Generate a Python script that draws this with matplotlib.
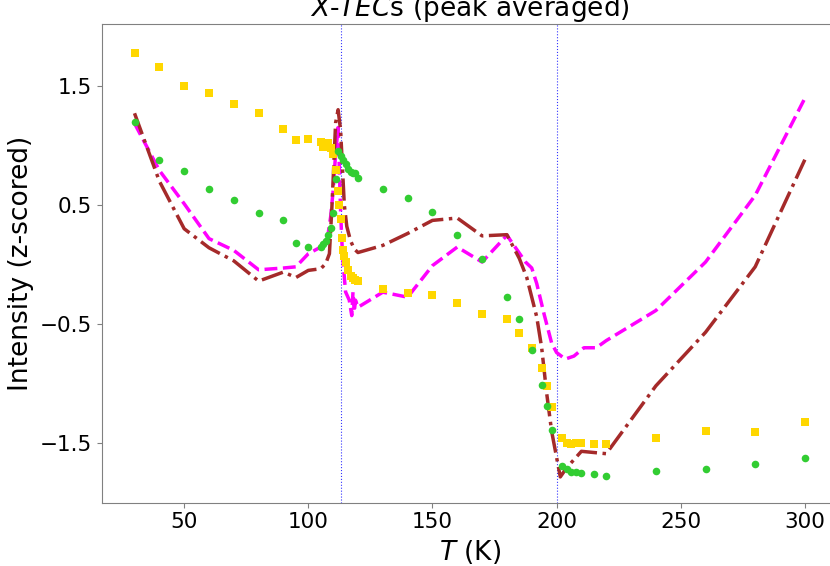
import matplotlib
matplotlib.use("Agg")
import matplotlib.pyplot as plt

# ---- data ----
T_yellow = [30, 40, 50, 60, 70, 80, 90, 95, 100, 105, 106, 107, 108, 109, 110,
            111, 112, 112.5, 113, 113.5, 114, 114.5, 115, 116, 117, 118, 119, 120,
            130, 140, 150, 160, 170, 180, 185, 190, 194, 196, 198,
            202, 204, 206, 208, 210, 215, 220, 240, 260, 280, 300]
yellow = [1.78, 1.66, 1.50, 1.44, 1.35, 1.275, 1.14, 1.045, 1.05, 1.03, 0.99, 1.00, 1.017, 0.975, 0.93,
          0.79, 0.62, 0.50, 0.38, 0.22, 0.12, 0.07, 0.02, -0.05, -0.10, -0.11, -0.13, -0.14,
          -0.21, -0.24, -0.26, -0.32, -0.42, -0.455, -0.58, -0.70, -0.87, -1.02, -1.20,
          -1.46, -1.50, -1.51, -1.50, -1.50, -1.505, -1.505, -1.46, -1.40, -1.41, -1.32]

T_green = [30, 40, 50, 60, 70, 80, 90, 95, 100, 105, 106, 107, 108, 109, 110,
           111, 112, 113, 114, 115, 116, 117, 118, 119, 120,
           130, 140, 150, 160, 170, 180, 185, 190, 194, 196, 198,
           202, 204, 206, 208, 210, 215, 220, 240, 260, 280, 300]
green = [1.20, 0.874, 0.784, 0.63, 0.54, 0.428, 0.37, 0.183, 0.146, 0.15, 0.175, 0.197, 0.25, 0.31, 0.43,
         0.72, 0.95, 0.91, 0.88, 0.84, 0.80, 0.78, 0.765, 0.77, 0.73,
         0.635, 0.56, 0.44, 0.25, 0.043, -0.27, -0.455, -0.72, -1.01, -1.19, -1.39,
         -1.69, -1.72, -1.74, -1.745, -1.755, -1.76, -1.777, -1.735, -1.716, -1.68, -1.63]

T_brown = [30, 40, 50, 60, 70, 80, 90, 95, 100, 105, 107, 108.5, 109.5, 110, 111, 112,
           113, 114.5, 115.5, 117, 118.5, 120, 130, 140, 150, 160, 170, 180,
           185, 188, 190, 192, 194, 196, 198, 200, 201.5, 204, 210, 220,
           240, 260, 280, 300]
brown = [1.27, 0.70, 0.30, 0.14, 0.03, -0.14, -0.064, -0.11, -0.05, -0.036, 0.006, 0.09, 0.48, 0.71, 1.19, 1.30,
         1.13, 0.50, 0.32, 0.20, 0.13, 0.10, 0.16, 0.26, 0.37, 0.39, 0.24, 0.25,
         0.05, -0.11, -0.275, -0.44, -0.70, -1.08, -1.40, -1.62, -1.785, -1.71, -1.57, -1.59,
         -1.02, -0.57, -0.02, 0.88]

T_magenta = [30, 40, 50, 60, 70, 80, 90, 95, 100, 105, 107.5, 109, 110, 111, 112,
             113, 113.5, 114, 115, 116.5, 117.5, 118, 118.5, 119, 120, 130, 140, 150, 160, 170, 180,
             187.5, 190, 192, 195, 198, 200, 203.5, 207, 211, 216, 220,
             240, 260, 280, 300]
magenta = [1.185, 0.79, 0.51, 0.217, 0.118, -0.045, -0.03, -0.02, 0.09, 0.146, 0.19, 0.40, 0.62, 0.93, 1.15,
           0.45, 0.20, 0.02, -0.23, -0.30, -0.43, -0.23, -0.40, -0.30, -0.36, -0.233, -0.275, -0.01, 0.146, 0.02, 0.245,
           0.02, -0.03, -0.16, -0.42, -0.66, -0.74, -0.795, -0.77, -0.70, -0.70, -0.64,
           -0.387, 0.02, 0.58, 1.396]

vlines = [113.3, 200]
yticks = [1.5, 0.5, -0.5, -1.5]
xticks = [50, 100, 150, 200, 250, 300]

# ---- figure ----
fig = plt.figure(figsize=(8.3, 5.66), dpi=100)
ax = fig.add_axes([102 / 830, (566 - 502.5) / 566, (838.6 - 102) / 830, (502.5 - 24) / 566])

ax.plot(T_magenta, magenta, color='magenta', linestyle='--', linewidth=2.5, zorder=2)
ax.plot(T_brown, brown, color='brown', linestyle='-.', linewidth=2.5, zorder=3)
ax.scatter(T_yellow, yellow, marker='s', s=28, color='gold', zorder=4, linewidths=0)
ax.scatter(T_green, green, marker='o', s=30, color='limegreen', zorder=5, linewidths=0)

for v in vlines:
    ax.axvline(v, color='blue', linestyle=':', linewidth=0.8, alpha=0.8, zorder=1)

ax.set_xlim(16.9, 313.6)
ax.set_ylim(-2.0, 2.02)
ax.set_xticks(xticks)
ax.set_yticks(yticks)
ax.set_yticklabels([str(t) if t >= 0 else '\u2212' + str(abs(t)) for t in yticks])
ax.tick_params(labelsize=15.5, color='grey', length=3.5)
for sp in ax.spines.values():
    sp.set_color('grey')

ax.set_title('$X$-$TEC$s (peak averaged)', fontsize=19)
ax.set_xlabel('$T$ (K)', fontsize=19)
ax.set_ylabel('Intensity (z-scored)', fontsize=19)

fig.savefig('out.png', dpi=100)
